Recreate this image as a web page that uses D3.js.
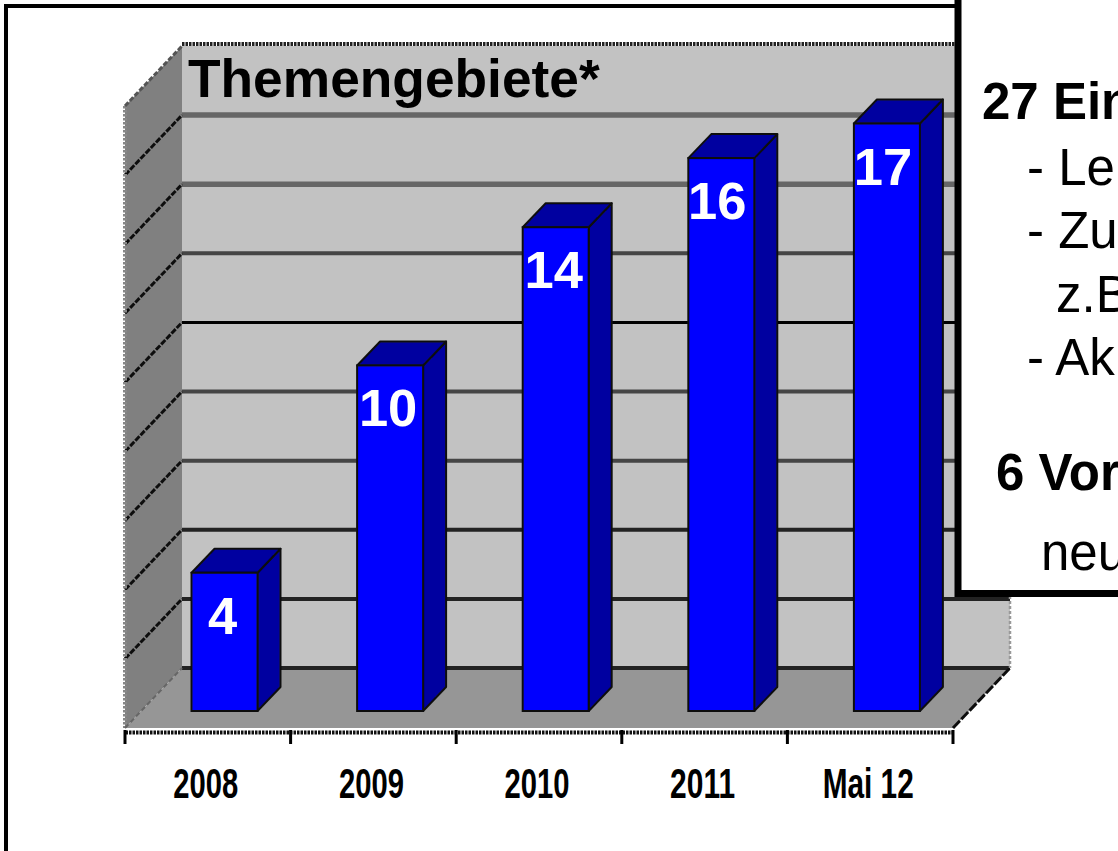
<!DOCTYPE html>
<html>
<head>
<meta charset="utf-8">
<script src="https://cdn.jsdelivr.net/npm/d3@7"></script>
<style>
  html, body { margin: 0; padding: 0; background: #fff; overflow: hidden; }
  svg { display: block; }
  text { font-family: "Liberation Sans", Arial, sans-serif; }
</style>
</head>
<body>
<div id="chart"></div>
<script>
var categories = ["2008", "2009", "2010", "2011", "Mai 12"];
var values = [4, 10, 14, 16, 17];
var gridTicks = [0, 2, 4, 6, 8, 10, 12, 14, 16, 18];
var chartTitle = "Themengebiete*";
var noteTexts = ["27 Ein", "- Le", "- Zu", "z.B", "- Ak", "6 Vor", "neu"];

var width = 1118, height = 851;

// 3d offsets of the box, front plane to back wall
var depthX = 57, depthY = 60;
var barDepthX = 23, barDepthY = 24;
var barInsetX = 17, barInsetY = 17;

var svg = d3.select("#chart").append("svg")
    .attr("width", width)
    .attr("height", height);

var defs = svg.append("defs");
defs.append("filter").attr("id", "soft")
    .append("feGaussianBlur").attr("stdDeviation", 0.7);

// front plane scales
var x = d3.scaleBand().domain(categories).range([125, 953]);
var y = d3.scaleLinear().domain([0, 18]).range([728, 106]);

// outer frame
svg.append("rect")
    .attr("x", 6).attr("y", 6)
    .attr("width", 1200).attr("height", 1000)
    .attr("fill", "none").attr("stroke", "#000").attr("stroke-width", 4);

var plot = svg.append("g").attr("filter", "url(#soft)");

function pts(list) {
    return list.map(function(p) { return p.join(","); }).join(" ");
}

var left = x.range()[0], right = x.range()[1];
var y0 = y(0), yTop = y(18);

// back wall
plot.append("polygon")
    .attr("points", pts([[left + depthX, yTop - depthY], [right + depthX, yTop - depthY], [right + depthX, y0 - depthY], [left + depthX, y0 - depthY]]))
    .attr("fill", "#c2c2c2");

// side wall
plot.append("polygon")
    .attr("points", pts([[left, yTop], [left + depthX, yTop - depthY], [left + depthX, y0 - depthY], [left, y0]]))
    .attr("fill", "#808080");

// floor
plot.append("polygon")
    .attr("points", pts([[left, y0], [left + depthX, y0 - depthY], [right + depthX, y0 - depthY], [right, y0]]))
    .attr("fill", "#969696");

// gridlines, back wall and side wall. The source image is resampled so they differ in weight
function gridColor(d) {
    if (d === 10) return "#000";
    if (d > 10) return d === 12 ? "#444" : "#666";
    return d >= 6 ? "#444" : "#222";
}
var grid = plot.append("g");
grid.selectAll("line.back")
    .data(gridTicks.slice(0, -1))
    .enter().append("line")
    .attr("class", "back")
    .attr("x1", left + depthX).attr("x2", right + depthX)
    .attr("y1", function(d) { return y(d) - depthY; })
    .attr("y2", function(d) { return y(d) - depthY; })
    .attr("stroke", gridColor)
    .attr("stroke-width", function(d) { return d > 12 ? 5.5 : d === 10 ? 3 : 4; });
grid.selectAll("line.side")
    .data(gridTicks.slice(1, -1))
    .enter().append("line")
    .attr("class", "side")
    .attr("x1", left).attr("x2", left + depthX)
    .attr("y1", function(d) { return y(d); })
    .attr("y2", function(d) { return y(d) - depthY; })
    .attr("stroke", "#111").attr("stroke-width", 3)
    .attr("stroke-dasharray", "6 1.5");

// dotted box edges
var edges = plot.append("g").attr("fill", "none");
edges.append("line")
    .attr("x1", left + depthX).attr("x2", right + depthX)
    .attr("y1", yTop - depthY - 2).attr("y2", yTop - depthY - 2)
    .attr("stroke", "#222").attr("stroke-width", 4).attr("stroke-dasharray", "2.5 1");
edges.append("line")
    .attr("x1", left).attr("x2", left)
    .attr("y1", yTop).attr("y2", y0)
    .attr("stroke", "#888").attr("stroke-width", 4).attr("stroke-dasharray", "2.5 1.5");
edges.append("line")
    .attr("x1", left).attr("x2", left + depthX)
    .attr("y1", yTop).attr("y2", yTop - depthY)
    .attr("stroke", "#555").attr("stroke-width", 3).attr("stroke-dasharray", "5 2");
edges.append("line")
    .attr("x1", left).attr("x2", left + depthX)
    .attr("y1", y0).attr("y2", y0 - depthY)
    .attr("stroke", "#666").attr("stroke-width", 2).attr("stroke-dasharray", "5 3");
edges.append("line")
    .attr("x1", right).attr("x2", right + depthX)
    .attr("y1", y0).attr("y2", y0 - depthY)
    .attr("stroke", "#111").attr("stroke-width", 3).attr("stroke-dasharray", "10 2");
edges.append("line")
    .attr("x1", right + depthX).attr("x2", right + depthX)
    .attr("y1", yTop - depthY).attr("y2", y0 - depthY)
    .attr("stroke", "#999").attr("stroke-width", 2.5).attr("stroke-dasharray", "3 2");

// bars
var barWidth = 66;
function barX(d) { return x(d) + barInsetX + (x.bandwidth() - barWidth) / 2 - 0.3; }
function barTop(v) { return y(v) - barInsetY; }
var barBase = y0 - barInsetY;

var bars = plot.selectAll("g.bar")
    .data(categories.map(function(c, i) { return { cat: c, val: values[i] }; }))
    .enter().append("g").attr("class", "bar");

bars.append("polygon")
    .attr("points", function(d) {
        var a = barX(d.cat), t = barTop(d.val);
        return pts([[a + barWidth, t], [a + barWidth + barDepthX, t - barDepthY], [a + barWidth + barDepthX, barBase - barDepthY], [a + barWidth, barBase]]);
    })
    .attr("fill", "#0000a0").attr("stroke", "#111").attr("stroke-width", 2).attr("stroke-linejoin", "round");
bars.append("polygon")
    .attr("points", function(d) {
        var a = barX(d.cat), t = barTop(d.val);
        return pts([[a, t], [a + barDepthX, t - barDepthY], [a + barWidth + barDepthX, t - barDepthY], [a + barWidth, t]]);
    })
    .attr("fill", "#0000a0").attr("stroke", "#111").attr("stroke-width", 2).attr("stroke-linejoin", "round");
bars.append("rect")
    .attr("x", function(d) { return barX(d.cat); })
    .attr("y", function(d) { return barTop(d.val); })
    .attr("width", barWidth)
    .attr("height", function(d) { return barBase - barTop(d.val); })
    .attr("fill", "#0000ff").attr("stroke", "#111").attr("stroke-width", 2);

// value labels
svg.selectAll("text.val")
    .data(categories.map(function(c, i) { return { cat: c, val: values[i] }; }))
    .enter().append("text")
    .attr("class", "val")
    .attr("x", function(d) { return barX(d.cat) + barWidth / 2 - (d.val > 14 ? 4 : 2); })
    .attr("y", function(d) { return barTop(d.val) + 61; })
    .attr("text-anchor", "middle")
    .attr("font-size", 52.5).attr("font-weight", "bold")
    .attr("fill", "#fff")
    .text(function(d) { return d.val; });

// title
svg.append("text")
    .attr("x", 188).attr("y", 97)
    .attr("font-size", 53.3).attr("font-weight", "bold")
    .attr("fill", "#000")
    .text(chartTitle);

// x axis with long ticks at the band edges
var axisY = y0 + 4;
var axisG = svg.append("g").attr("transform", "translate(0," + axisY + ")");
axisG.call(d3.axisBottom(x).tickSize(0).tickPadding(0));
axisG.select(".domain")
    .attr("stroke", "#111").attr("stroke-width", 4).attr("stroke-dasharray", "2.5 1");
axisG.selectAll(".tick text")
    .attr("x", -2)
    .attr("y", 66).attr("dy", 0)
    .attr("font-family", "'Liberation Sans', Arial, sans-serif")
    .attr("font-size", 42).attr("font-weight", "bold").attr("fill", "#000")
    .attr("textLength", function(d) { return d === "Mai 12" ? 91 : 65; })
    .attr("lengthAdjust", "spacingAndGlyphs");
axisG.selectAll("line.edge")
    .data(categories.concat(["end"]))
    .enter().append("line")
    .attr("class", "edge")
    .attr("x1", function(d) { return d === "end" ? right : x(d); })
    .attr("x2", function(d) { return d === "end" ? right : x(d); })
    .attr("y1", -2).attr("y2", 12)
    .attr("stroke", "#000").attr("stroke-width", 3);

// note box on top of the chart, runs off the right edge
svg.append("rect")
    .attr("x", 958).attr("y", -20)
    .attr("width", 300).attr("height", 613.5)
    .attr("fill", "#fff").attr("stroke", "#000").attr("stroke-width", 7);

var noteX = [982, 1027, 1027, 1056, 1027, 996, 1041];
var noteY = [119, 185, 248, 312, 375, 490, 570];
svg.selectAll("text.note")
    .data(noteTexts)
    .enter().append("text")
    .attr("class", "note")
    .attr("x", function(d, i) { return noteX[i]; })
    .attr("y", function(d, i) { return noteY[i]; })
    .attr("font-size", 51)
    .attr("font-weight", function(d, i) { return i === 0 || i === 5 ? "bold" : "normal"; })
    .attr("fill", "#000")
    .text(function(d) { return d; });
</script>
</body>
</html>
